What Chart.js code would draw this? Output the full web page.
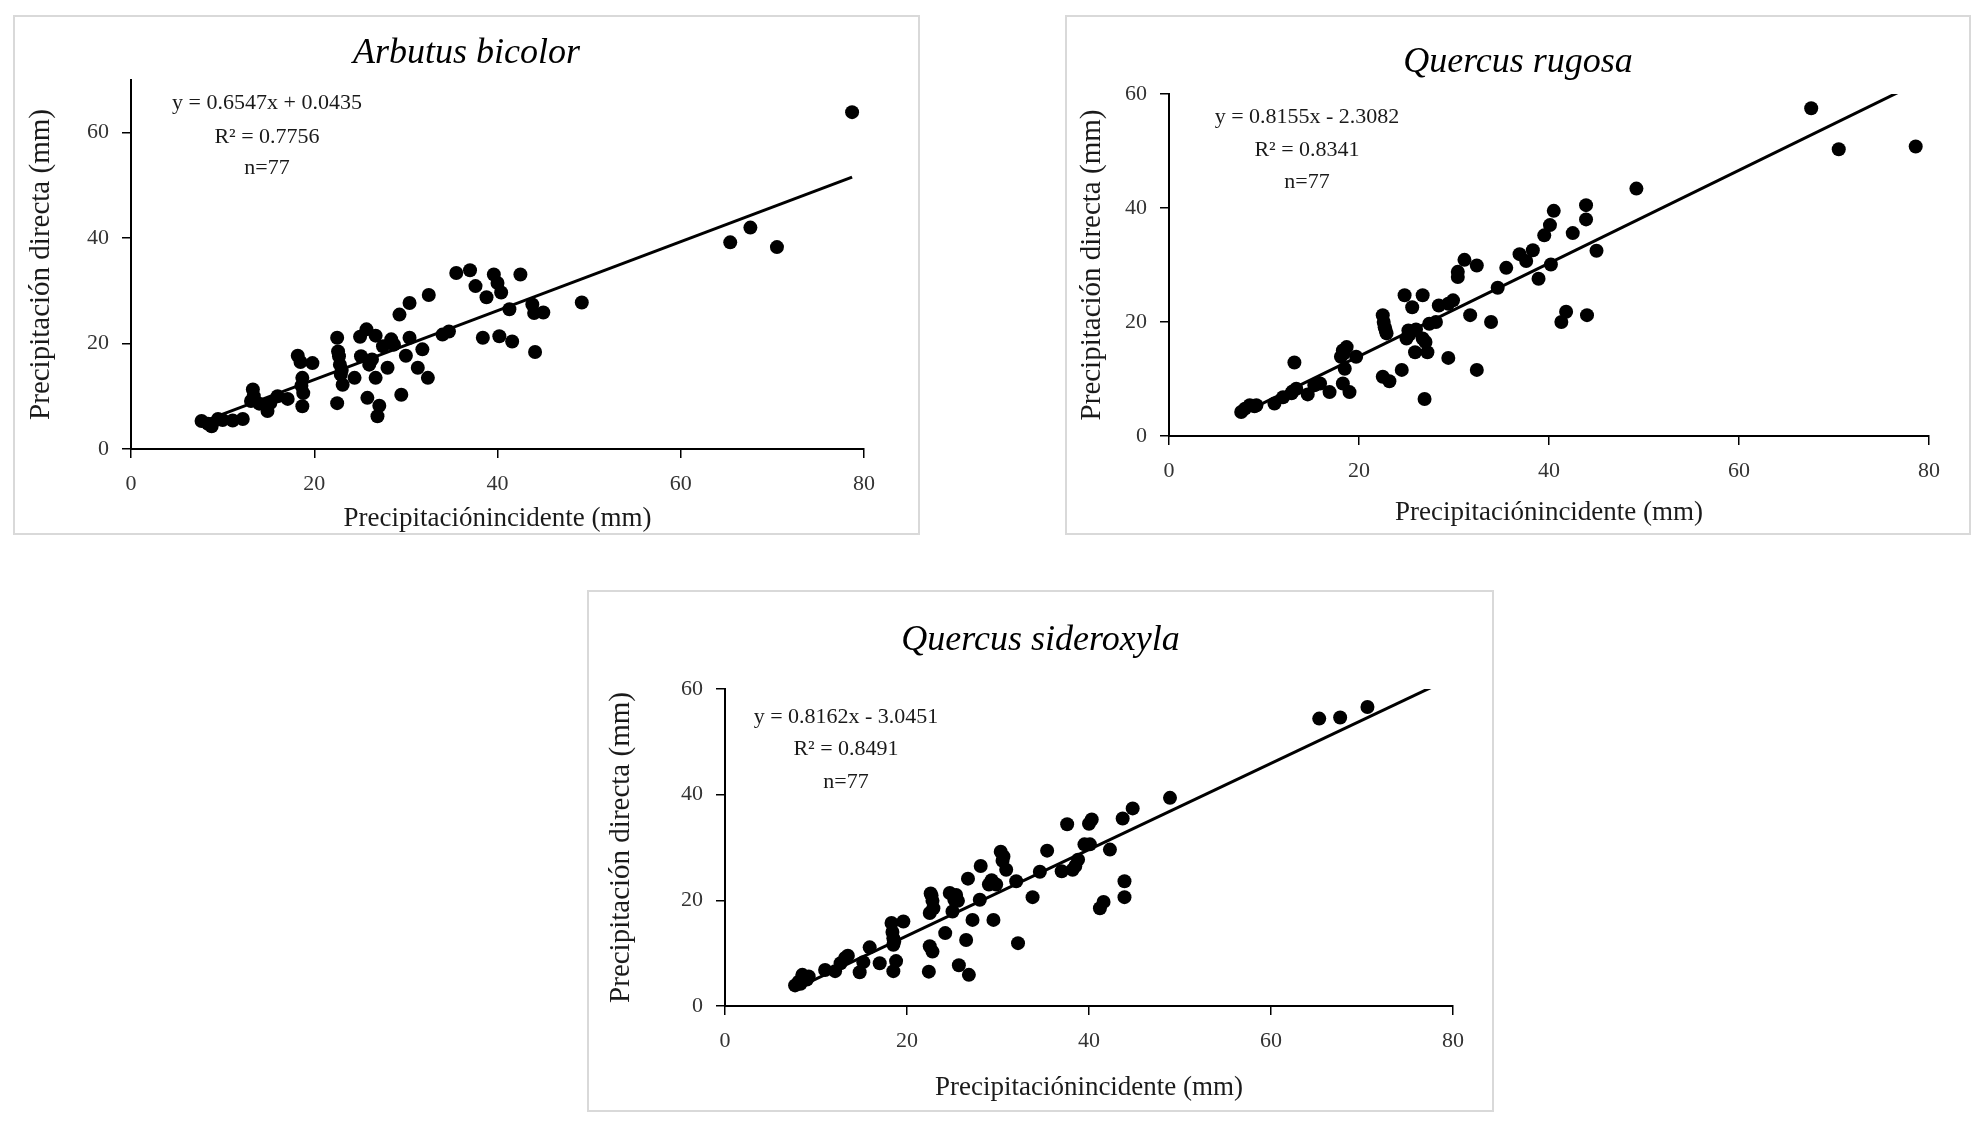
<!DOCTYPE html>
<html>
<head>
<meta charset="utf-8">
<script src="https://cdn.jsdelivr.net/npm/chart.js@4.4.1/dist/chart.umd.min.js"></script>
<style>
  body { margin: 0; background: #fff; width: 1983px; height: 1123px; position: relative; overflow: hidden; }
  .frame { position: absolute; border: 2px solid #d9d9d9; box-sizing: border-box; }
  canvas { position: absolute; }
</style>
</head>
<body>
<script>
// species names (panel titles)
const species = ['Arbutus bicolor', 'Quercus rugosa', 'Quercus sideroxyla'];

// regression results shown in each panel
const slopes = [0.6547, 0.8155, 0.8162];
const intercepts = [0.0435, -2.3082, -3.0451];
const r2 = [0.7756, 0.8341, 0.8491];
const nObs = [77, 77, 77];
const trendEnd = [78.7, 78.6, 78.7];

// axis ticks
const xTicks = [0, 20, 40, 60, 80];
const yTicks = [0, 20, 40, 60];
const yMaxes = [70, 60, 60];

const xLabel = 'Precipitaciónincidente (mm)';
const yLabel = 'Precipitación directa (mm)';

// Arbutus bicolor: incident vs direct precipitation (mm)
const arbutusX = [7.7, 8.4, 8.8, 9.5, 11.1, 12.2, 13.3, 13.1, 14.0, 14.9, 15.2, 16.0, 17.1, 18.2, 18.5, 19.8, 18.7, 18.8, 18.7,
  22.5, 22.7, 22.8, 22.9, 23.1, 22.5, 24.4, 25.0, 25.7, 26.7, 25.1, 26.0, 26.7, 25.8, 27.1, 26.9, 27.5, 28.4, 28.7, 28.0,
  29.3, 30.4, 30.4, 30.0, 29.5, 31.8, 31.3, 32.4, 32.5, 34.0, 34.7, 35.5, 37.0, 37.6, 38.8, 38.4, 39.6, 40.0, 40.4, 40.2,
  41.3, 41.6, 42.5, 43.8, 44.0, 45.0, 44.1, 49.2, 65.4, 67.6, 70.5, 78.7, 22.6, 18.6, 13.4, 26.3, 10.0, 23.0];
const arbutusY = [5.3, 4.8, 4.3, 5.7, 5.4, 5.7, 11.3, 9.1, 8.6, 7.2, 8.7, 10.0, 9.5, 17.7, 16.5, 16.3, 13.5, 10.6, 8.1,
  21.1, 17.6, 16.0, 14.1, 12.2, 8.7, 13.5, 21.3, 22.7, 21.5, 17.6, 16.0, 13.5, 9.7, 8.2, 6.2, 19.5, 20.8, 19.8, 15.4,
  25.5, 27.7, 21.1, 17.7, 10.3, 18.9, 15.4, 13.5, 29.2, 21.7, 22.3, 33.4, 33.9, 30.9, 28.8, 21.1, 33.1, 31.5, 29.7, 21.4,
  26.5, 20.4, 33.1, 27.4, 25.8, 25.9, 18.4, 27.8, 39.2, 42.0, 38.3, 63.9, 18.5, 12.0, 10.0, 17.0, 5.5, 15.0];

// Quercus rugosa
const rugosaX = [7.6, 8.5, 9.2, 11.1, 12.0, 12.9, 13.4, 13.2, 14.6, 15.3, 15.9, 16.9, 18.3, 19.0, 18.5, 18.1, 18.3, 18.7, 19.7,
  22.5, 22.7, 22.9, 22.5, 23.2, 24.5, 24.8, 25.6, 25.2, 25.0, 26.0, 25.9, 26.7, 26.7, 27.2, 26.9, 27.4, 28.1, 28.4, 29.4,
  29.9, 29.4, 30.4, 30.4, 31.1, 32.4, 31.7, 33.9, 32.4, 34.6, 35.5, 36.9, 37.6, 38.3, 38.9, 40.2, 39.5, 40.1, 40.5, 41.8,
  41.3, 42.5, 43.9, 43.9, 44.0, 45.0, 49.2, 67.6, 70.5, 78.6, 8.0, 9.0, 18.4, 22.6, 22.8, 25.3, 13.0, 27.0];
const rugosaY = [4.2, 5.4, 5.4, 5.7, 6.8, 7.5, 8.3, 12.9, 7.3, 8.9, 9.2, 7.7, 9.2, 7.7, 11.8, 13.9, 15.0, 15.6, 13.9,
  21.2, 19.1, 18.0, 10.4, 9.6, 11.6, 24.7, 22.6, 18.5, 17.1, 18.7, 14.7, 17.1, 24.7, 14.7, 6.5, 19.7, 20.0, 22.9, 23.2,
  23.8, 13.7, 27.9, 28.8, 30.9, 29.9, 21.2, 20.0, 11.6, 26.0, 29.5, 31.9, 30.7, 32.6, 27.6, 30.1, 35.2, 37.0, 39.5, 21.8,
  20.0, 35.6, 40.5, 38.0, 21.2, 32.5, 43.4, 57.5, 50.3, 50.8, 4.8, 5.2, 14.5, 20.0, 18.6, 17.8, 7.8, 16.5];

// Quercus sideroxyla
const sideroxylaX = [7.7, 8.1, 8.5, 9.2, 11.0, 12.1, 13.2, 12.7, 14.8, 15.2, 15.9, 17.0, 18.3, 18.5, 18.5, 18.8, 18.5, 19.6,
  22.7, 22.8, 22.5, 22.5, 22.8, 22.4, 24.2, 24.7, 25.2, 25.6, 25.0, 25.7, 26.8, 26.5, 26.7, 27.2, 28.1, 28.0, 29.5, 29.0,
  29.8, 30.3, 30.5, 30.9, 32.2, 32.0, 33.8, 34.6, 35.4, 37.0, 37.6, 38.2, 38.8, 39.5, 40.1, 40.3, 40.0, 41.2, 41.6, 42.3,
  43.7, 43.9, 43.9, 44.8, 48.9, 65.3, 67.6, 70.6, 8.3, 9.0, 13.5, 18.4, 18.6, 22.6, 22.9, 25.4, 29.3, 30.6, 38.5];
const sideroxylaY = [3.9, 4.6, 5.9, 5.6, 6.8, 6.6, 9.1, 8.1, 6.4, 8.3, 11.1, 8.1, 15.7, 12.8, 11.6, 8.5, 6.6, 16.0,
  20.9, 19.9, 17.6, 11.3, 10.3, 6.5, 13.8, 21.4, 20.1, 19.9, 17.9, 7.7, 5.9, 12.5, 24.1, 16.3, 26.5, 20.1, 16.3, 23.0,
  23.0, 29.2, 27.5, 25.8, 11.9, 23.6, 20.6, 25.4, 29.4, 25.5, 34.4, 25.8, 27.7, 30.6, 30.6, 35.3, 34.5, 18.5, 19.7, 29.6,
  35.5, 23.6, 20.6, 37.4, 39.4, 54.4, 54.6, 56.6, 4.2, 5.0, 9.5, 14.0, 12.2, 21.3, 18.5, 21.0, 23.8, 28.3, 26.5];

const seriesX = [arbutusX, rugosaX, sideroxylaX];
const seriesY = [arbutusY, rugosaY, sideroxylaY];

// page layout of the three framed panels
const panels = [
  { left: 13, top: 15, w: 907, h: 520, pad: { left: 11, right: 56, top: 65, bottom: 0 }, yWidth: 107, xHeight: 86, titleY: 39, eqX: 254, eqY: [88, 122, 153] },
  { left: 1065, top: 15, w: 906, h: 520, pad: { left: 10, right: 42, top: 79, bottom: 6 }, yWidth: 94, xHeight: 93, titleY: 48, eqX: 242, eqY: [102, 135, 167] },
  { left: 587, top: 590, w: 907, h: 522, pad: { left: 17, right: 41, top: 99, bottom: 8 }, yWidth: 121, xHeight: 98, titleY: 51, eqX: 259, eqY: [127, 159, 192] }
];

const serif = '"Liberation Serif", "Times New Roman", serif';

// panel title and regression text
const panelText = {
  id: 'panelText',
  afterDraw(chart, args, opts) {
    const ctx = chart.ctx;
    ctx.save();
    ctx.fillStyle = '#000';
    ctx.textAlign = 'center';
    ctx.textBaseline = 'middle';
    ctx.font = 'italic 36px ' + serif;
    ctx.fillText(opts.title, chart.width / 2, opts.titleY);
    ctx.fillStyle = '#1a1a1a';
    ctx.font = '22px ' + serif;
    opts.lines.forEach((t, i) => ctx.fillText(t, opts.eqX, opts.eqY[i]));
    ctx.restore();
  }
};

function eqLines(i) {
  const b = intercepts[i];
  const sign = b < 0 ? '- ' : '+ ';
  return [
    'y = ' + slopes[i].toFixed(4) + 'x ' + sign + Math.abs(b).toFixed(4),
    'R² = ' + r2[i].toFixed(4),
    'n=' + nObs[i]
  ];
}

panels.forEach((p, i) => {
  const frame = document.createElement('div');
  frame.className = 'frame';
  frame.style.left = p.left + 'px';
  frame.style.top = p.top + 'px';
  frame.style.width = p.w + 'px';
  frame.style.height = p.h + 'px';
  document.body.appendChild(frame);

  const canvas = document.createElement('canvas');
  canvas.width = p.w;
  canvas.height = p.h;
  canvas.style.left = p.left + 'px';
  canvas.style.top = p.top + 'px';
  canvas.style.width = p.w + 'px';
  canvas.style.height = p.h + 'px';
  document.body.appendChild(canvas);

  const xs = seriesX[i], ys = seriesY[i];
  const points = xs.map((x, k) => ({ x: x, y: ys[k] }));
  const x0 = Math.min(...xs);
  const x1 = trendEnd[i];
  const trend = [x0, x1].map(x => ({ x: x, y: slopes[i] * x + intercepts[i] }));

  const tickFont = { family: serif, size: 22 };

  new Chart(canvas.getContext('2d'), {
    type: 'scatter',
    data: {
      datasets: [{
        data: points,
        backgroundColor: '#000',
        borderWidth: 0,
        pointRadius: 7,
        pointHoverRadius: 7,
        order: 0
      }, {
        type: 'line',
        data: trend,
        borderColor: '#000',
        borderWidth: 3,
        pointRadius: 0,
        fill: false,
        order: 1
      }]
    },
    options: {
      responsive: false,
      animation: false,
      events: [],
      layout: { padding: p.pad },
      plugins: {
        legend: { display: false },
        tooltip: { enabled: false },
        panelText: { title: species[i], lines: eqLines(i), titleY: p.titleY, eqX: p.eqX, eqY: p.eqY }
      },
      scales: {
        x: {
          type: 'linear',
          min: xTicks[0],
          max: xTicks[xTicks.length - 1],
          afterBuildTicks: s => { s.ticks = xTicks.map(v => ({ value: v })); },
          afterFit: s => { s.height = p.xHeight; },
          ticks: { font: tickFont, color: '#333', padding: 13 },
          grid: { drawOnChartArea: false, drawTicks: true, tickLength: 9, color: '#000', lineWidth: 1.5 },
          border: { display: true, color: '#000', width: 2 },
          title: { display: true, text: xLabel, font: { family: serif, size: 27 }, color: '#1a1a1a', padding: 0 }
        },
        y: {
          type: 'linear',
          min: 0,
          max: yMaxes[i],
          afterBuildTicks: s => { s.ticks = yTicks.map(v => ({ value: v })); },
          afterFit: s => { s.width = p.yWidth; },
          ticks: { font: tickFont, color: '#333', padding: 13 },
          grid: { drawOnChartArea: false, drawTicks: true, tickLength: 9, color: '#000', lineWidth: 1.5 },
          border: { display: true, color: '#000', width: 2 },
          title: { display: true, text: yLabel, font: { family: serif, size: 29 }, color: '#1a1a1a', padding: 0 }
        }
      }
    },
    plugins: [panelText]
  });
});
</script>
</body>
</html>
